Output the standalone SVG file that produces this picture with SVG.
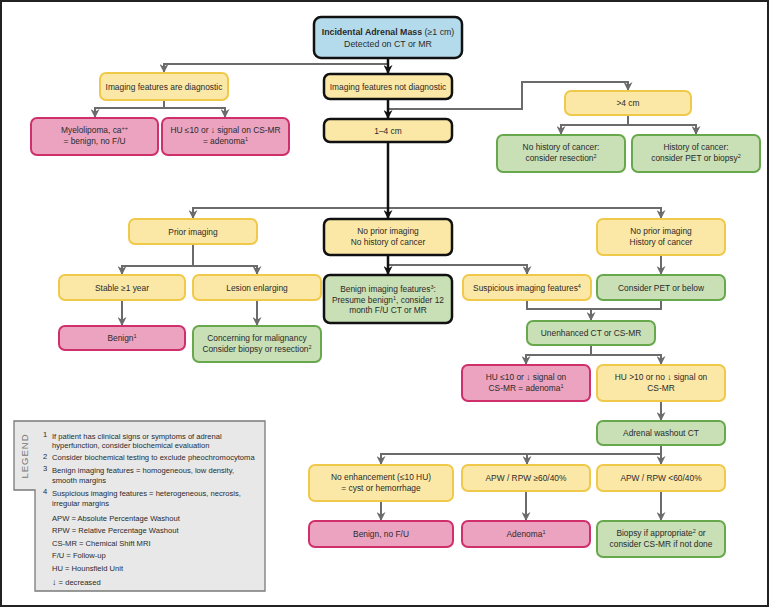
<svg xmlns="http://www.w3.org/2000/svg" width="771" height="608" viewBox="0 0 771 608">
<style>
text{font-family:"Liberation Sans",Arial,sans-serif;font-size:8.4px;fill:#2b2b2b;text-anchor:middle}
.y{fill:#fbe8a6;stroke:#f0c94a;stroke-width:2}
.p{fill:#eba3c0;stroke:#cf2f6a;stroke-width:2}
.g{fill:#c9dfb6;stroke:#68a84c;stroke-width:2}
.b{fill:#b4dbeb;stroke:#111;stroke-width:2.5}
.k{stroke:#111;stroke-width:2.5}
.gc path{fill:none;stroke:#6b6b6b;stroke-width:2}
.bc path{fill:none;stroke:#111;stroke-width:2.5}
.lg text{text-anchor:start;font-size:7.6px}
.sup{font-size:5.5px}
</style>
<defs>
<marker id="ag" markerUnits="userSpaceOnUse" markerWidth="9" markerHeight="9" viewBox="0 0 10 10" refX="10" refY="5" orient="auto"><path d="M0,0 L10,5 L0,10 L3,5 z" fill="#6b6b6b"/></marker>
<marker id="ak" markerUnits="userSpaceOnUse" markerWidth="9" markerHeight="9" viewBox="0 0 10 10" refX="10" refY="5" orient="auto"><path d="M0,0 L10,5 L0,10 L3,5 z" fill="#111"/></marker>
</defs>
<rect x="1" y="1" width="767" height="605" fill="#fff" stroke="#222" stroke-width="2"/>

<g id="connectors">
<g class="gc">
<path d="M387,64 H164 V73" marker-end="url(#ag)"/>
<path d="M388,109 H522 V82 H628 V91" marker-end="url(#ag)"/>
<path d="M164,100 V108 H95 V118" marker-end="url(#ag)"/>
<path d="M164,108 H225 V118" marker-end="url(#ag)"/>
<path d="M628,115 V125 H561 V135" marker-end="url(#ag)"/>
<path d="M628,125 H696 V135" marker-end="url(#ag)"/>
<path d="M388,208 H193 V219" marker-end="url(#ag)"/>
<path d="M388,208 H661 V219" marker-end="url(#ag)"/>
<path d="M193,244 V266 H122 V275" marker-end="url(#ag)"/>
<path d="M193,266 H257 V275" marker-end="url(#ag)"/>
<path d="M122,300 V326" marker-end="url(#ag)"/>
<path d="M257,300 V326" marker-end="url(#ag)"/>
<path d="M388,265 H527 V275" marker-end="url(#ag)"/>
<path d="M661,255 V275" marker-end="url(#ag)"/>
<path d="M527,300 V309 H591 V321" marker-end="url(#ag)"/>
<path d="M661,300 V309 H591"/>
<path d="M591,345 V355 H526 V365" marker-end="url(#ag)"/>
<path d="M591,355 H661 V365" marker-end="url(#ag)"/>
<path d="M661,401 V421" marker-end="url(#ag)"/>
<path d="M661,445 V454 H381 V465" marker-end="url(#ag)"/>
<path d="M527,454 V465" marker-end="url(#ag)"/>
<path d="M661,454 V465" marker-end="url(#ag)"/>
<path d="M381,501 V521" marker-end="url(#ag)"/>
<path d="M526,491 V521" marker-end="url(#ag)"/>
<path d="M661,491 V521" marker-end="url(#ag)"/>
</g>
<g class="bc">
<path d="M388,58 V74" marker-end="url(#ak)"/>
<path d="M388,99 V119" marker-end="url(#ak)"/>
<path d="M388,142 V219" marker-end="url(#ak)"/>
<path d="M388,255 V275" marker-end="url(#ak)"/>
</g>
</g>

<g id="title"><rect class="b" x="314" y="17" width="148" height="41" rx="7"/>
<text x="388" y="35" style="font-size:8.8px"><tspan font-weight="bold">Incidental Adrenal Mass</tspan> (≥1 cm)</text>
<text x="388" y="47" style="font-size:8.8px">Detected on CT or MR</text></g>

<g id="diag"><rect class="y" x="100" y="73" width="128" height="27" rx="6"/><text x="164" y="89.5">Imaging features are diagnostic</text></g>
<g id="notdiag"><rect class="y k" x="324" y="74" width="128" height="25" rx="6"/><text x="388" y="89.5">Imaging features not diagnostic</text></g>
<g id="myelo"><rect class="p" x="31" y="118" width="127" height="37" rx="6"/><text x="94.5" y="133">Myelolipoma, ca<tspan class="sup" baseline-shift="super">++</tspan></text><text x="94.5" y="143.5">= benign, no F/U</text></g>
<g id="hu1"><rect class="p" x="162" y="118" width="127" height="37" rx="6"/><text x="225.5" y="133">HU ≤10 or ↓ signal on CS-MR</text><text x="225.5" y="143.5">= adenoma<tspan class="sup" baseline-shift="super">1</tspan></text></g>
<g id="cm14"><rect class="y k" x="324" y="119" width="128" height="23" rx="6"/><text x="388" y="133.5">1–4 cm</text></g>
<g id="gt4"><rect class="y" x="565" y="91" width="126" height="24" rx="6"/><text x="628" y="106">&gt;4 cm</text></g>
<g id="resect"><rect class="g" x="497" y="135" width="128" height="37" rx="6"/><text x="561" y="150">No history of cancer:</text><text x="561" y="160.5">consider resection<tspan class="sup" baseline-shift="super">2</tspan></text></g>
<g id="petbiopsy"><rect class="g" x="632" y="135" width="128" height="37" rx="6"/><text x="696" y="150">History of cancer:</text><text x="696" y="160.5">consider PET or biopsy<tspan class="sup" baseline-shift="super">2</tspan></text></g>

<g id="prior"><rect class="y" x="129" y="219" width="128" height="25" rx="6"/><text x="193" y="234.5">Prior imaging</text></g>
<g id="noprior"><rect class="y k" x="324" y="219" width="128" height="36" rx="6"/><text x="388" y="234">No prior imaging</text><text x="388" y="244.5">No history of cancer</text></g>
<g id="nopriorhist"><rect class="y" x="597" y="219" width="128" height="36" rx="6"/><text x="661" y="234">No prior imaging</text><text x="661" y="244.5">History of cancer</text></g>

<g id="stable"><rect class="y" x="59" y="275" width="126" height="25" rx="6"/><text x="122" y="290.5">Stable ≥1 year</text></g>
<g id="enlarging"><rect class="y" x="193" y="275" width="128" height="25" rx="6"/><text x="257" y="290.5">Lesion enlarging</text></g>
<g id="benignfeat"><rect class="g k" x="324" y="275" width="128" height="48" rx="6"/><text x="388" y="292">Benign imaging features<tspan class="sup" baseline-shift="super">3</tspan>:</text><text x="388" y="302.5">Presume benign<tspan class="sup" baseline-shift="super">1</tspan>, consider 12</text><text x="388" y="313">month F/U CT or MR</text></g>
<g id="suspicious"><rect class="y" x="463" y="275" width="128" height="25" rx="6"/><text x="527" y="290.5">Suspicious imaging features<tspan class="sup" baseline-shift="super">4</tspan></text></g>
<g id="considerpet"><rect class="g" x="597" y="275" width="128" height="25" rx="6"/><text x="661" y="290.5">Consider PET or below</text></g>

<g id="benign1"><rect class="p" x="59" y="326" width="126" height="24" rx="6"/><text x="122" y="341">Benign<tspan class="sup" baseline-shift="super">1</tspan></text></g>
<g id="concerning"><rect class="g" x="193" y="326" width="128" height="36" rx="6"/><text x="257" y="341">Concerning for malignancy</text><text x="257" y="351.5">Consider biopsy or resection<tspan class="sup" baseline-shift="super">2</tspan></text></g>

<g id="unenhanced"><rect class="g" x="527" y="321" width="128" height="24" rx="6"/><text x="591" y="336">Unenhanced CT or CS-MR</text></g>
<g id="hu2"><rect class="p" x="462" y="365" width="128" height="36" rx="6"/><text x="526" y="380">HU ≤10 or ↓ signal on</text><text x="526" y="390.5">CS-MR = adenoma<tspan class="sup" baseline-shift="super">1</tspan></text></g>
<g id="hu3"><rect class="y" x="597" y="365" width="128" height="36" rx="6"/><text x="661" y="380">HU &gt;10 or no ↓ signal on</text><text x="661" y="390.5">CS-MR</text></g>
<g id="washout"><rect class="g" x="597" y="421" width="128" height="24" rx="6"/><text x="661" y="436">Adrenal washout CT</text></g>

<g id="noenh"><rect class="y" x="309" y="465" width="144" height="36" rx="6"/><text x="381" y="480">No enhancement (≤10 HU)</text><text x="381" y="490.5">= cyst or hemorrhage</text></g>
<g id="apwhi"><rect class="y" x="462" y="465" width="128" height="26" rx="6"/><text x="526" y="481">APW / RPW ≥60/40%</text></g>
<g id="apwlo"><rect class="y" x="597" y="465" width="128" height="26" rx="6"/><text x="661" y="481">APW / RPW &lt;60/40%</text></g>
<g id="benignnofu"><rect class="p" x="309" y="521" width="144" height="26" rx="6"/><text x="381" y="537">Benign, no F/U</text></g>
<g id="adenoma"><rect class="p" x="462" y="521" width="128" height="26" rx="6"/><text x="526" y="537">Adenoma<tspan class="sup" baseline-shift="super">1</tspan></text></g>
<g id="biopsy"><rect class="g" x="597" y="521" width="128" height="36" rx="6"/><text x="661" y="536">Biopsy if appropriate<tspan class="sup" baseline-shift="super">2</tspan> or</text><text x="661" y="546.5">consider CS-MR if not done</text></g>

<g id="legend" class="lg">
<polygon points="14,421 265,421 265,591 35,591 35,490 14,490" fill="#e8e8e8" stroke="#7a7a7a" stroke-width="1.3"/>
<text x="28" y="456" transform="rotate(-90 28 456)" style="text-anchor:middle;font-size:9.5px;fill:#7a7a7a;letter-spacing:1px">LEGEND</text>
<text x="43" y="437" class="sup">1</text>
<text x="52" y="438.5">If patient has clinical signs or symptoms of adrenal</text>
<text x="52" y="447.5">hyperfunction, consider biochemical evaluation</text>
<text x="43" y="458.5" class="sup">2</text>
<text x="52" y="460">Consider biochemical testing to exclude pheochromocytoma</text>
<text x="43" y="471" class="sup">3</text>
<text x="52" y="472.5">Benign imaging features = homogeneous, low density,</text>
<text x="52" y="482.5">smooth margins</text>
<text x="43" y="494" class="sup">4</text>
<text x="52" y="495.5">Suspicious imaging features = heterogeneous, necrosis,</text>
<text x="52" y="505.5">irregular margins</text>
<text x="52" y="520.5">APW = Absolute Percentage Washout</text>
<text x="52" y="533">RPW = Relative Percentage Washout</text>
<text x="52" y="545.5">CS-MR = Chemical Shift MRI</text>
<text x="52" y="558">F/U = Follow-up</text>
<text x="52" y="570.5">HU = Hounsfield Unit</text>
<text x="52" y="584.5"><tspan style="font-size:9px;font-weight:bold">↓</tspan> = decreased</text>
</g>
</svg>
